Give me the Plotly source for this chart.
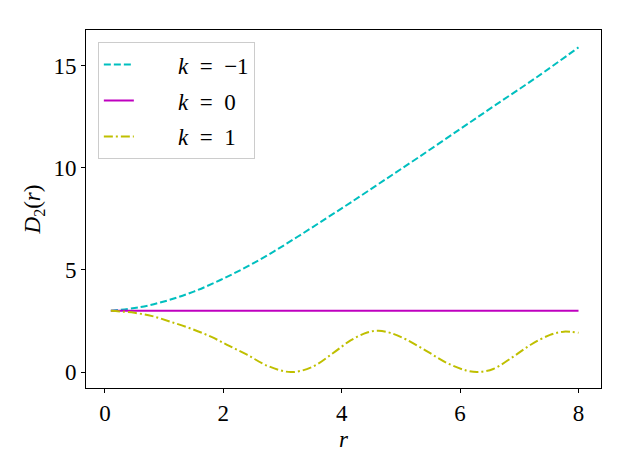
import plotly.graph_objects as go

# k = -1 curve
r_neg = [0.1, 0.6, 1.05, 1.5, 1.95, 2.4, 2.85, 3.3, 3.75, 4.15, 4.7, 5.3, 6.0, 6.6, 7.3, 8.0]
d_neg = [3.0, 3.18, 3.5, 3.94, 4.51, 5.16, 5.9, 6.71, 7.55, 8.3, 9.36, 10.52, 11.9, 13.08, 14.45, 15.9]

# k = 0 curve
r_zero = [0.1, 8.0]
d_zero = [3.0, 3.0]

# k = 1 curve
r_pos = [0.1, 0.5, 0.8, 1.1, 1.45, 1.8, 2.1, 2.4, 2.75, 3.14, 3.5, 3.85, 4.15, 4.43,
         4.62, 4.82, 5.1, 5.45, 5.78, 6.1, 6.3, 6.56, 6.9, 7.2, 7.52, 7.75, 8.0]
d_pos = [3.0, 2.9, 2.74, 2.47, 2.13, 1.72, 1.28, 0.85, 0.3, 0.0, 0.25, 0.92, 1.55, 1.94,
         2.02, 1.92, 1.58, 1.0, 0.44, 0.08, 0.0, 0.15, 0.76, 1.35, 1.82, 1.98, 1.92]

pad = "\u2003\u2002\u2009"
names = [pad + "<i>k</i>\u2002=\u2002\u22121", pad + "<i>k</i>\u2002=\u20020", pad + "<i>k</i>\u2002=\u20021"]

serif = "Liberation Serif"

fig = go.Figure()

fig.add_trace(go.Scatter(
    x=r_neg, y=d_neg, mode="lines", name=names[0], legendgroup="a",
    line=dict(color="#00bfbf", width=2, dash="7px,3px", shape="spline")
))
fig.add_trace(go.Scatter(
    x=r_zero, y=d_zero, mode="lines", name=names[1], legendgroup="b",
    line=dict(color="#bf00bf", width=2)
))
fig.add_trace(go.Scatter(
    x=r_pos, y=d_pos, mode="lines", name=names[2], legendgroup="c",
    line=dict(color="#bfbf00", width=2, dash="9px,3px,2px,3px", shape="spline")
))

axis_style = dict(
    showline=True, linecolor="black", linewidth=1, mirror=True,
    ticks="outside", ticklen=4, tickcolor="black", showgrid=False,
    zeroline=False, automargin=False,
    tickfont=dict(family=serif, size=23, color="black")
)

fig.update_xaxes(
    range=[-0.32, 8.38], tickvals=[0, 2, 4, 6, 8],
    title=dict(text="<i>r</i>", font=dict(family=serif, size=23, color="black"), standoff=6),
    **axis_style
)
fig.update_yaxes(
    range=[-0.78, 16.75], tickvals=[0, 5, 10, 15],
    title=dict(text="<i>D</i><sub>2</sub>(<i>r</i>)", font=dict(family=serif, size=23, color="black"), standoff=6),
    **axis_style
)

# the page body adds an 8px offset, so the figure is 8px smaller with trimmed margins
fig.update_layout(
    width=624, height=466,
    margin=dict(l=78, r=31, t=22, b=86),
    plot_bgcolor="white", paper_bgcolor="white",
    font=dict(family=serif, size=23, color="black"),
    legend=dict(
        x=0.023, y=0.966, xanchor="left", yanchor="top",
        bgcolor="rgba(255,255,255,0.8)", bordercolor="#cccccc", borderwidth=1,
        font=dict(family=serif, size=23, color="black"),
        tracegroupgap=3
    ),
    showlegend=True
)

fig.write_html("out.html")
